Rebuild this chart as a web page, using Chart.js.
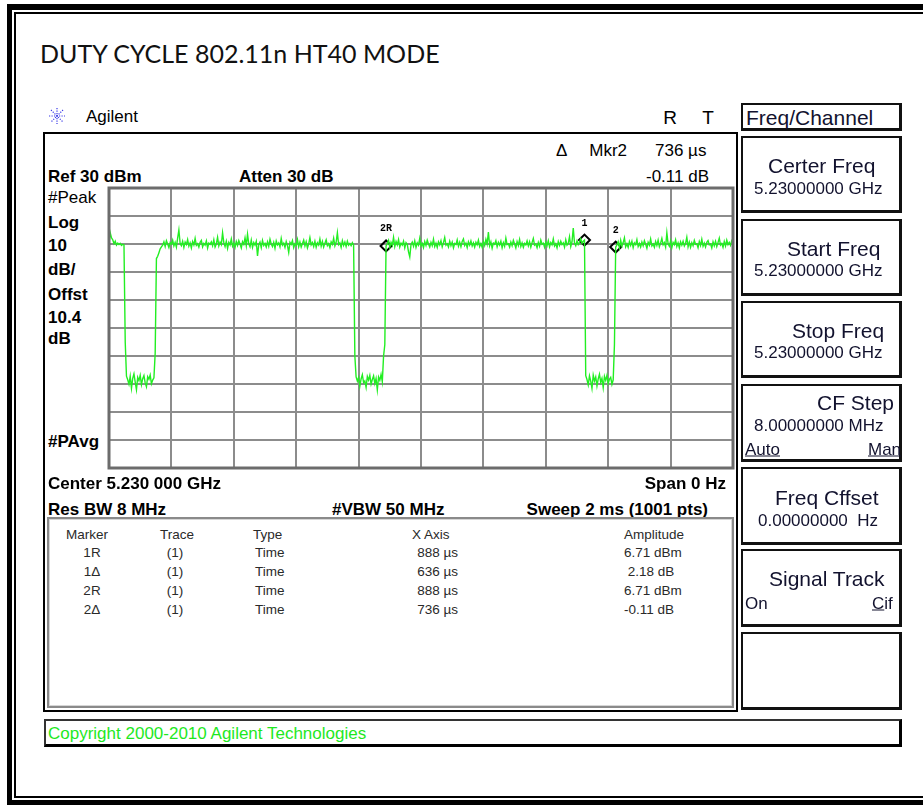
<!DOCTYPE html>
<html>
<head>
<meta charset="utf-8">
<title>Duty cycle 802.11n HT40</title>
<script src="https://cdn.jsdelivr.net/npm/chart.js@4.4.1/dist/chart.umd.min.js"></script>
<style>
  html, body { margin: 0; padding: 0; background: #fff; }
  body { width: 923px; height: 805px; position: relative; overflow: hidden;
         font-family: "Liberation Sans", Arial, sans-serif; color: #000; }
  .box { position: absolute; box-sizing: border-box; }
  .t { position: absolute; white-space: pre; line-height: 1; transform: translateY(-50%); }
  .r { transform: translate(-100%, -50%); }
  .c { transform: translate(-50%, -50%); }
  .b { font-weight: bold; }
  .i17 { font-size: 17px; }
  .sk { position: absolute; left: 741px; width: 161px; box-sizing: border-box;
        border: 2px solid #111; border-right-width: 3px; border-bottom-width: 3px; }
  .skt { font-size: 21px; color: #12122e; }
  .skv { font-size: 17px; color: #12122e; }
  .tb { font-size: 13.5px; color: #2a2a2a; }
  #screen { position: absolute; left: 100px; top: 180px; }
</style>
</head>
<body>

<!-- page frame -->
<div class="box" style="left:7px;top:4px;width:960px;height:801px;border:5px solid #000;border-top-width:6px;"></div>
<div class="box" style="left:14px;top:12px;width:950px;height:786px;border:2px solid #000;"></div>

<div class="t" style="left:40px;top:53px;font-family:Lato,'Open Sans',sans-serif;font-size:25px;color:#111;">DUTY CYCLE 802.11n HT40 MODE</div>

<!-- instrument header -->
<svg style="position:absolute;left:49px;top:108px" width="16" height="16" viewBox="0 0 16 16">
  <g stroke="#3a3ae8" stroke-width="1.2" stroke-dasharray="1.2 1.3" fill="none">
    <line x1="8" y1="0" x2="8" y2="16"/><line x1="0" y1="8" x2="16" y2="8"/>
    <line x1="2" y1="2" x2="14" y2="14"/><line x1="14" y1="2" x2="2" y2="14"/>
  </g>
</svg>
<div class="t i17" style="left:86px;top:116px;">Agilent</div>
<div class="t c" style="left:670px;top:117px;font-size:19px;">R</div>
<div class="t c" style="left:708px;top:117px;font-size:19px;">T</div>

<!-- screen -->
<div class="box" style="left:43px;top:132px;width:695px;height:580px;border:2px solid #000;"></div>
<div class="t i17" style="left:556px;top:150px;">Δ</div>
<div class="t i17 r" style="left:627px;top:150px;">Mkr2</div>
<div class="t i17" style="left:655px;top:150px;">736 µs</div>
<div class="t i17 b" style="left:48px;top:176px;">Ref 30 dBm</div>
<div class="t i17 b" style="left:239px;top:176px;">Atten 30 dB</div>
<div class="t i17 r" style="left:709px;top:176px;">-0.11 dB</div>

<div class="t i17" style="left:48px;top:197px;">#Peak</div>
<div class="t i17 b" style="left:48px;top:222px;">Log</div>
<div class="t i17 b" style="left:48px;top:245px;">10</div>
<div class="t i17 b" style="left:48px;top:269px;">dB/</div>
<div class="t i17 b" style="left:48px;top:294px;">Offst</div>
<div class="t i17 b" style="left:48px;top:317px;">10.4</div>
<div class="t i17 b" style="left:48px;top:338px;">dB</div>
<div class="t i17 b" style="left:48px;top:441px;">#PAvg</div>

<canvas id="screen" width="642" height="296"></canvas>

<div class="t i17 b" style="left:48px;top:483px;">Center 5.230 000 GHz</div>
<div class="t i17 b r" style="left:726px;top:483px;">Span 0 Hz</div>
<div class="t i17 b" style="left:48px;top:509px;">Res BW 8 MHz</div>
<div class="t i17 b" style="left:332px;top:509px;">#VBW 50 MHz</div>
<div class="t i17 b r" style="left:708px;top:509px;">Sweep 2 ms (1001 pts)</div>

<div class="box" style="left:47px;top:517px;width:687px;height:191px;border:2px solid #8a8a8a;box-shadow:inset 0 0 0 1px #d6d6d6;"></div>
<div id="table"></div>

<!-- copyright bar -->
<div class="box" style="left:44px;top:719px;width:858px;height:28px;border:2px solid #333;border-right:3px solid #000;border-bottom:3px solid #000;"></div>
<div class="t i17" style="left:48px;top:733px;color:#1ee81e;">Copyright 2000-2010 Agilent Technologies</div>

<!-- softkeys -->
<div class="box" style="left:741px;top:103px;width:161px;height:28px;border:2px solid #111;border-right-width:3px;border-bottom-width:3px;"></div>
<div class="t skt" style="left:746px;top:117px;">Freq/Channel</div>

<div class="sk" style="top:136px;height:77px;"></div>
<div class="t skt" style="left:768px;top:165px;">Certer Freq</div>
<div class="t skv" style="left:754px;top:188px;">5.23000000 GHz</div>

<div class="sk" style="top:219px;height:77px;"></div>
<div class="t skt" style="left:787px;top:248px;">Start Freq</div>
<div class="t skv" style="left:754px;top:270px;">5.23000000 GHz</div>

<div class="sk" style="top:301px;height:77px;"></div>
<div class="t skt" style="left:792px;top:330px;">Stop Freq</div>
<div class="t skv" style="left:754px;top:352px;">5.23000000 GHz</div>

<div class="sk" style="top:384px;height:78px;"></div>
<div class="t skt" style="left:817px;top:402px;">CF Step</div>
<div class="t skv" style="left:754px;top:425px;">8.00000000 MHz</div>
<div class="t skv" style="left:745px;top:449px;text-decoration:underline;">Auto</div>
<div class="t skv" style="left:868px;top:449px;text-decoration:underline;">Man</div>

<div class="sk" style="top:467px;height:78px;"></div>
<div class="t skt" style="left:775px;top:497px;">Freq Cffset</div>
<div class="t skv" style="left:758px;top:520px;">0.00000000  Hz</div>

<div class="sk" style="top:549px;height:78px;"></div>
<div class="t skt" style="left:769px;top:578px;">Signal Track</div>
<div class="t skv" style="left:745px;top:603px;">On</div>
<div class="t skv" style="left:872px;top:603px;"><u>C</u>if</div>

<div class="sk" style="top:632px;height:78px;"></div>

<script>
  // Sweep settings (zero span, 2 ms, trace read every 4 µs)
  const sweepUs = 2000;
  const sampleUs = 4;
  const timeDivUs = 200;
  const refLevelDbm = 30;
  const dbPerDiv = 10;
  const bottomDbm = -70;

  // Trace amplitude, dBm (501 samples, 0..2000 µs)
  const traceDbm = [
    10.4, 14.0, 12.2, 11.5, 10.1, 11.0, 9.6, 10.3, 9.8, 10.2, 9.5, 9.9,
    9.7, -25, -37.2,
    -38.5, -40.1, -37.2, -41.5, -38.0, -36.4, -39.3, -42.0, -37.6, -38.8,
    -36.9, -40.2, -38.1, -37.0, -39.6, -41.0, -37.4, -38.3, -36.8, -39.9,
    -38.6, -37.8,
    -29, 4.8, 5.6, 6.9, 8.3, 9.0,
    9.6, 10.8, 9.1, 11.2, 10.0, 8.7, 10.5, 9.9, 11.4, 9.3,
    10.6, 8.9, 12.1, 15.0, 10.2, 9.4, 11.0, 8.8, 10.7, 9.8,
    11.6, 9.2, 10.4, 8.6, 10.9, 9.7, 12.0, 9.5, 10.1, 8.9,
    10.6, 11.3, 9.0, 10.2, 9.6, 11.1, 8.5, 10.3, 9.9, 10.8,
    9.4, 11.5, 8.9, 10.0, 12.4, 9.3, 10.7, 9.8, 14.0, 10.5,
    9.1, 11.0, 8.4, 10.6, 9.7, 11.8, 9.2, 10.3, 8.8, 10.9,
    9.5, 11.2, 10.0, 8.6, 10.8, 9.9, 12.2, 9.4, 13.5, 10.1,
    9.0, 11.4, 8.8, 10.5, 9.6, 11.0, 5.7, 9.8, 10.7, 8.7,
    11.3, 9.5, 10.2, 8.9, 10.8, 9.2, 11.7, 10.0, 9.1, 10.6,
    8.5, 11.1, 9.7, 10.4, 9.0, 12.0, 9.6, 10.3, 8.8, 10.9,
    9.4, 7.0, 10.6, 9.9, 11.2, 8.7, 10.1, 9.5, 11.6, 9.0,
    10.7, 8.9, 10.2, 11.4, 9.3, 10.8, 8.6, 10.0, 12.3, 9.7,
    10.5, 9.1, 11.0, 8.8, 10.4, 9.6, 11.8, 9.2, 10.9, 8.9,
    10.3, 11.5, 9.4, 10.1, 8.7, 10.8, 9.9, 12.1, 9.3, 10.6,
    14.0, 9.8, 10.4, 8.8, 11.2, 9.5, 10.7, 9.1, 11.0, 9.6,
    10.2, 9.4, 10.5,
    9.6, -30, -37.5,
    -39.0, -37.6, -40.8, -38.2, -36.7, -39.5, -38.9, -41.2, -37.3, -38.6,
    -36.9, -40.0, -38.4, -37.1, -39.8, -38.0, -42.1, -37.5, -38.7, -36.6,
    -39.2,
    -30, -26, 9.3,
    10.1, 11.3, 8.8, 10.6, 9.5, 12.4, 9.1, 10.9, 9.7, 11.6,
    8.9, 10.3, 9.6, 11.0, 8.6, 10.5, 9.9, 7.2, 5.4, 9.8,
    10.7, 9.2, 11.1, 8.8, 10.4, 9.6, 12.0, 9.3, 10.2, 8.7,
    10.9, 9.5, 11.4, 10.0, 8.9, 10.6, 9.4, 11.7, 9.1, 10.3,
    8.8, 10.8, 9.7, 11.2, 9.0, 10.5, 12.3, 9.6, 10.1, 8.9,
    11.0, 9.4, 10.7, 8.6, 10.2, 9.8, 11.5, 9.2, 10.6, 9.0,
    10.9, 11.8, 9.5, 10.3, 8.7, 10.8, 9.6, 11.1, 9.3, 10.4,
    8.9, 10.6, 9.7, 11.4, 9.1, 10.2, 8.8, 10.9, 9.5, 11.7,
    10.0, 14.3, 9.4, 10.8, 8.5, 10.3, 9.9, 11.2, 9.0, 10.6,
    9.6, 11.0, 8.7, 10.5, 9.2, 12.1, 9.8, 10.1, 8.9, 10.7,
    9.4, 11.3, 10.0, 8.6, 10.9, 9.5, 11.6, 9.1, 10.4, 8.8,
    10.2, 9.7, 11.1, 9.3, 10.8, 8.9, 10.5, 12.0, 9.6, 10.0,
    8.7, 10.6, 9.2, 11.4, 9.9, 10.3, 8.8, 10.7, 9.4, 11.2,
    9.0, 10.5, 9.7, 11.8, 9.3, 10.1, 8.6, 10.9, 9.5, 11.0,
    9.8, 10.4, 8.9, 11.5, 9.6, 10.2, 12.6, 9.1, 10.8, 15.7,
    10.3, 9.4, 11.1, 9.8, 10.6, 11.9, 10.2, 11.0,
    11.4, -37.0,
    -38.4, -40.3, -37.1, -39.0, -41.6, -36.8, -38.9, -37.5, -40.7, -38.2,
    -36.5, -39.4, -38.0, -41.3, -37.2, -38.7, -36.9, -39.8, -38.3, -37.6,
    -40.1, -38.5,
    -26, 8.9,
    9.7, 10.8, 8.6, 11.3, 9.2, 10.5, 12.2, 9.0, 10.1, 8.8,
    10.9, 9.5, 11.0, 8.7, 10.4, 9.8, 11.6, 9.1, 10.2, 8.9,
    10.7, 9.4, 11.2, 9.9, 8.5, 10.6, 9.6, 11.8, 9.3, 10.0,
    8.8, 10.9, 9.5, 11.4, 9.0, 10.3, 12.0, 9.7, 10.5, 8.9,
    14.0, 10.1, 9.2, 11.1, 8.7, 10.6, 9.8, 11.5, 9.1, 10.4,
    8.6, 10.8, 9.6, 11.0, 9.3, 10.2, 12.4, 9.0, 10.7, 8.8,
    10.5, 9.4, 11.3, 9.9, 10.1, 8.7, 10.9, 9.5, 11.7, 9.2,
    10.3, 8.9, 10.6, 11.2, 9.7, 10.0, 8.6, 10.8, 9.4, 11.0,
    9.1, 10.5, 12.1, 9.6, 10.2, 8.8, 10.9, 9.3, 11.4, 9.8,
    10.6, 9.5, 11.2, 12.0
  ];

  // Markers on the trace
  const markerNames = ["2R", "1", "2"];
  const markerUs = [888, 1524, 1624];
  const markerDbm = [9.3, 11.4, 8.9];

  // Marker table
  const tableHeader = ["Marker", "Trace", "Type", "X Axis", "Amplitude"];
  const tableMarker = ["1R", "1Δ", "2R", "2Δ"];
  const tableTrace = ["(1)", "(1)", "(1)", "(1)"];
  const tableType = ["Time", "Time", "Time", "Time"];
  const tableXAxis = ["888 µs", "636 µs", "888 µs", "736 µs"];
  const tableAmplitude = ["6.71 dBm", " 2.18 dB", "6.71 dBm", "-0.11 dB"];

  // Build marker table text
  var table = document.getElementById("table");
  function cell(text, left, top, cls) {
    var d = document.createElement("div");
    d.className = "t tb " + (cls || "");
    d.style.left = left + "px";
    d.style.top = top + "px";
    d.textContent = text;
    table.appendChild(d);
  }
  var headLeft = [66, 160, 253, 412, 624];
  tableHeader.forEach(function (h, i) { cell(h, headLeft[i], 535); });
  tableMarker.forEach(function (m, i) {
    var y = 553 + i * 19;
    cell(m, 92, y, "c");
    cell(tableTrace[i], 175, y, "c");
    cell(tableType[i], 255, y);
    cell(tableXAxis[i], 458, y, "r");
    cell(tableAmplitude[i], 624, y);
  });

  // Screen frame around the graticule
  var graticuleFrame = {
    id: "graticuleFrame",
    afterDraw: function (chart) {
      var ctx = chart.ctx, a = chart.chartArea;
      ctx.save();
      ctx.strokeStyle = "#6c6c6c";
      ctx.lineWidth = 3;
      ctx.strokeRect(a.left, a.top, a.right - a.left, a.bottom - a.top);
      ctx.restore();
    }
  };

  // Marker numbers above the diamonds
  var markerTags = {
    id: "markerTags",
    afterDatasetsDraw: function (chart) {
      var ctx = chart.ctx;
      var meta = chart.getDatasetMeta(1);
      ctx.save();
      ctx.font = "bold 10px 'Liberation Mono', monospace";
      ctx.fillStyle = "#000";
      ctx.textAlign = "center";
      ctx.textBaseline = "middle";
      meta.data.forEach(function (pt, i) {
        ctx.fillText(markerNames[i], pt.x, pt.y - 17);
      });
      ctx.restore();
    }
  };

  var ctx = document.getElementById("screen").getContext("2d");
  var screenChart = new Chart(ctx, {
    type: "line",
    data: {
      datasets: [
        {
          data: traceDbm.map(function (v, i) { return { x: i * sampleUs, y: v }; }),
          borderColor: "#22ee22",
          borderWidth: 1.4,
          pointRadius: 0,
          tension: 0,
          fill: false,
        },
        {
          data: markerUs.map(function (t, i) { return { x: t, y: markerDbm[i] }; }),
          showLine: false,
          pointStyle: "rectRot",
          pointRadius: 5.5,
          pointBorderWidth: 2,
          pointBorderColor: "#000",
          pointBackgroundColor: "rgba(255,255,255,0)",
        },
      ],
    },
    options: {
      responsive: false,
      animation: false,
      layout: { padding: { left: 9, right: 9, top: 8, bottom: 8 } },
      plugins: { legend: { display: false }, tooltip: { enabled: false } },
      scales: {
        x: {
          type: "linear",
          min: 0,
          max: sweepUs,
          ticks: { display: false, stepSize: timeDivUs },
          grid: { color: "#8c8c8c", lineWidth: 2, drawTicks: false },
          border: { display: false },
        },
        y: {
          min: bottomDbm,
          max: refLevelDbm,
          ticks: { display: false, stepSize: dbPerDiv },
          grid: { color: "#8c8c8c", lineWidth: 2, drawTicks: false },
          border: { display: false },
        },
      },
    },
    plugins: [graticuleFrame, markerTags],
  });
</script>
</body>
</html>
